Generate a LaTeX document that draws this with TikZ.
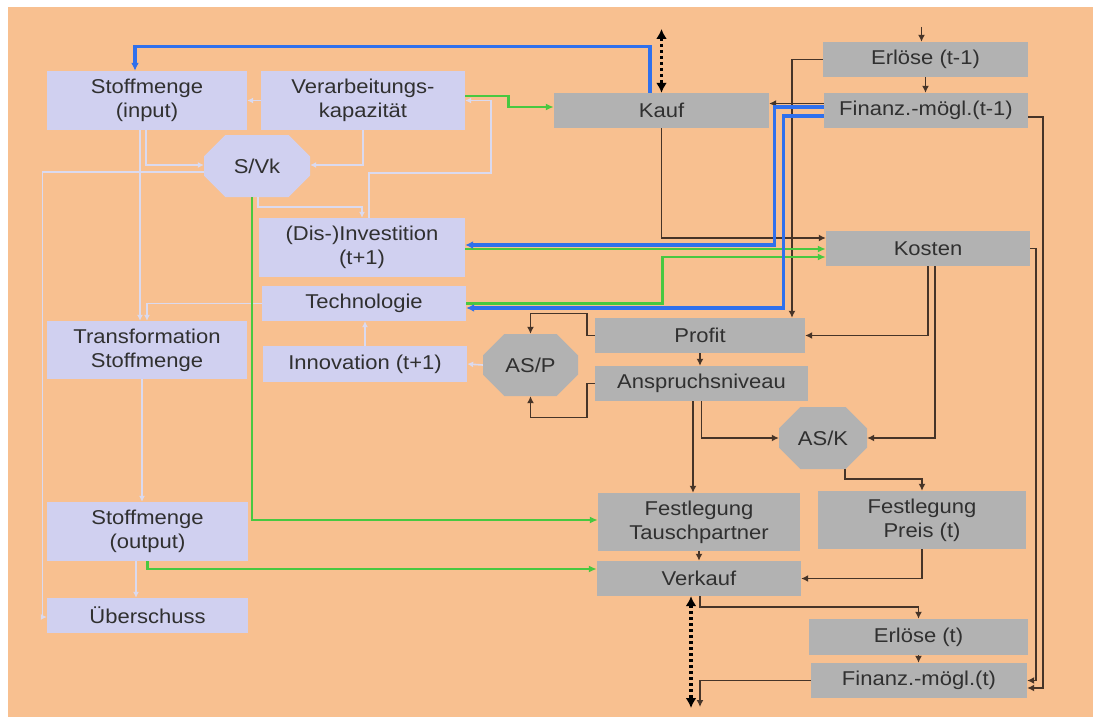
\documentclass[tikz,border=0pt]{standalone}
\usepackage{fontspec}
\newfontfamily\df[FakeStretch=1.1]{Liberation Sans}
\usetikzlibrary{arrows.meta,shapes.misc}
\definecolor{bgc}{RGB}{248,192,144}
\definecolor{lavc}{RGB}{208,208,240}
\definecolor{greyc}{RGB}{178,178,178}
\definecolor{txt}{RGB}{48,48,48}
\definecolor{dkc}{RGB}{70,52,40}
\definecolor{bluec}{RGB}{48,112,236}
\definecolor{greenc}{RGB}{72,200,64}
\definecolor{ltc}{RGB}{218,218,240}
\tikzset{
  box/.style={rectangle, inner sep=0pt, align=center, text=txt,
    font=\df\fontsize{20}{24}\selectfont},
  lav/.style={box, fill=lavc},
  gry/.style={box, fill=greyc},
  oct/.style={chamfered rectangle, chamfered rectangle xsep=15pt,
    chamfered rectangle ysep=14pt, inner sep=0pt, text=txt,
    font=\df\fontsize{20}{24}\selectfont},
  dk/.style={draw=dkc, line width=1.8pt, -{Latex[length=7pt,width=7pt]}},
  bl/.style={draw=bluec, line width=3.2pt, -{Latex[length=8pt,width=8pt]}},
  gr/.style={draw=greenc, line width=2.8pt, -{Latex[length=8pt,width=7pt]}},
  lt/.style={draw=ltc, line width=1.6pt, -{Latex[length=6pt,width=6pt]}},
  dotarr/.style={draw=black, line width=3.4pt, dash pattern=on 3pt off 3pt,
    {Latex[length=10pt,width=11pt]}-{Latex[length=10pt,width=11pt]}},
}
\begin{document}
\begin{tikzpicture}[x=1pt,y=-1pt]
\useasboundingbox (0,0) rectangle (1093,717);
\fill[white] (0,0) rectangle (1093,717);
\fill[bgc] (8,7) rectangle (1093,717);

% lavender nodes
\node[lav, minimum width=200pt, minimum height=59pt] (sin) at (147,100.5) {Stoffmenge\\(input)};
\node[lav, minimum width=204pt, minimum height=59pt] (verarb) at (363,100.5) {Verarbeitungs-\\kapazit\"at};
\node[oct, fill=lavc, minimum width=106pt, minimum height=62pt] (svk) at (257,166) {S/Vk};
\node[lav, minimum width=206pt, minimum height=59pt] (inv) at (362,247.5) {(Dis-)Investition\\(t+1)};
\node[lav, minimum width=204pt, minimum height=35pt] (tech) at (364,303.5) {Technologie};
\node[lav, minimum width=200pt, minimum height=58pt] (trans) at (147,350) {Transformation\\Stoffmenge};
\node[lav, minimum width=204pt, minimum height=36pt] (innov) at (365,364) {Innovation (t+1)};
\node[lav, minimum width=201pt, minimum height=59pt] (sout) at (147.5,531.5) {Stoffmenge\\(output)};
\node[lav, minimum width=201pt, minimum height=35pt] (ueber) at (147.5,615.5) {\"Uberschuss};

% grey nodes
\node[gry, minimum width=215pt, minimum height=35pt] (kauf) at (661.5,110.5) {Kauf};
\node[gry, minimum width=205pt, minimum height=35pt] (erl1) at (925.5,59.5) {Erl\"ose (t-1)};
\node[gry, minimum width=204pt, minimum height=35pt] (fin1) at (926,110.5) {Finanz.-m\"ogl.(t-1)};
\node[gry, minimum width=204pt, minimum height=35pt] (kosten) at (928,248.5) {Kosten};
\node[gry, minimum width=210pt, minimum height=35pt] (profit) at (700,335.5) {Profit};
\node[gry, minimum width=213pt, minimum height=35pt] (ansp) at (701.5,383.5) {Anspruchsniveau};
\node[oct, fill=greyc, minimum width=95pt, minimum height=62pt] (asp) at (530.5,365) {AS/P};
\node[oct, fill=greyc, minimum width=88pt, minimum height=62pt] (ask) at (823,438) {AS/K};
\node[gry, minimum width=202pt, minimum height=58pt] (ftp) at (699,522) {Festlegung\\Tauschpartner};
\node[gry, minimum width=208pt, minimum height=58pt] (fpreis) at (922,520) {Festlegung\\Preis (t)};
\node[gry, minimum width=204pt, minimum height=35pt] (verkauf) at (699,578.5) {Verkauf};
\node[gry, minimum width=219pt, minimum height=36pt] (erlt) at (918.5,637) {Erl\"ose (t)};
\node[gry, minimum width=216pt, minimum height=35pt] (fint) at (919,680.5) {Finanz.-m\"ogl.(t)};

% free ends
\coordinate (dtop) at (661.5,29);
\coordinate (dbot) at (691,708);
\coordinate (etop) at (921.5,27);
\coordinate (fend) at (700,707);

% light connectors
\draw[lt] (verarb.west) -- (sin.east);
\draw[lt] ([xshift=-1pt]sin.south) |- ([yshift=1pt]svk.west);
\draw[lt] (verarb.south) |- ([yshift=1pt]svk.east);
\draw[lt] ([yshift=-6pt]svk.west) -| ([xshift=-4.5pt,yshift=-1.5pt]ueber.west) -- ([yshift=-1.5pt]ueber.west);
\draw[lt] ([xshift=-7pt]sin.south) -- ([xshift=-7pt]trans.north);
\draw[lt] (tech.west) -| (trans.north);
\draw[lt] ([xshift=-5pt]trans.south) -- ([xshift=-5pt]trans.south |- sout.north);
\draw[lt] ([xshift=-11.5pt]sout.south) -- ([xshift=-11.5pt]ueber.north);
\draw[lt] ([xshift=1pt]svk.south) -- ++(0,10) -| (inv.north);
\draw[lt] ([xshift=7pt]inv.north) -- ++(0,-45) -- ++(122,0) |- (verarb.east);
\draw[lt] (innov.north) -- (innov.north |- tech.south);
\draw[lt] (asp.west) -- (innov.east);

% dark connectors
\draw[dotarr] (dtop) -- (dtop |- kauf.north);
\draw[dotarr] (dbot |- verkauf.south) -- (dbot);
\draw[dk] (etop) -- (etop |- erl1.north);
\draw[dk] (erl1.south) -- (erl1.south |- fin1.north);
\draw[dk] (erl1.west) -| ([xshift=92pt]profit.north);
\draw[dk] ([yshift=7pt]fin1.west) -- ([yshift=7pt]kauf.east);
\draw[dk] ([yshift=-6.5pt]fin1.east) -| ([xshift=16pt,yshift=-7.5pt]fint.east) -- ([yshift=-7.5pt]fint.east);
\draw[dk] (kosten.east) -| ([xshift=9pt]fint.east) -- (fint.east);
\draw[dk] (kauf.south) |- ([yshift=10.5pt]kosten.west);
\draw[dk] (kosten.south) |- (profit.east);
\draw[dk] ([xshift=7pt]kosten.south) |- (ask.east);
\draw[dk] (profit.south) -- (profit.south |- ansp.north);
\draw[dk] (profit.west) -- ++(-8,0) -- ++(0,-22) -| (asp.north);
\draw[dk] (ansp.west) -- ++(-8,0) -- ++(0,34) -| (asp.south);
\draw[dk] ([xshift=-8.5pt]ansp.south) -- ([xshift=-8.5pt]ansp.south |- ftp.north);
\draw[dk] (ansp.south) |- (ask.west);
\draw[dk] ([xshift=22pt]ask.south) -- ++(0,10) -| (fpreis.north);
\draw[dk] (fpreis.south) |- (verkauf.east);
\draw[dk] (ftp.south) -- (ftp.south |- verkauf.north);
\draw[dk] ([xshift=1pt]verkauf.south) -- ++(0,11) -| (erlt.north);
\draw[dk] (erlt.south) -- (erlt.south |- fint.north);
\draw[dk] (fint.west) -| (fend);

% green connectors
\draw[gr] ([yshift=4.5pt]verarb.east) -- ++(43,0) |- ([yshift=3.5pt]kauf.west);
\draw[gr] ([yshift=-1.5pt]inv.east) -- ([yshift=-0.5pt]kosten.west);
\draw[gr] (tech.east) -- ++(196,0) |- ([yshift=-8.5pt]kosten.west);
\draw[gr] ([xshift=-5pt]svk.south) |- ([yshift=2pt]ftp.west);
\draw[gr] (sout.south) |- ([yshift=9.5pt]verkauf.west);

% blue connectors
\draw[bl] ([xshift=-11.5pt]kauf.north) -- ++(0,-46) -| ([xshift=-12pt]sin.north);
\draw[bl] ([yshift=3.5pt]fin1.west) -- ++(-49,0) |- ([yshift=2.5pt]inv.east);
\draw[bl] ([yshift=-5.5pt]fin1.west) -- ++(-40,0) |- ([yshift=-4.5pt]tech.east);
\end{tikzpicture}
\end{document}
